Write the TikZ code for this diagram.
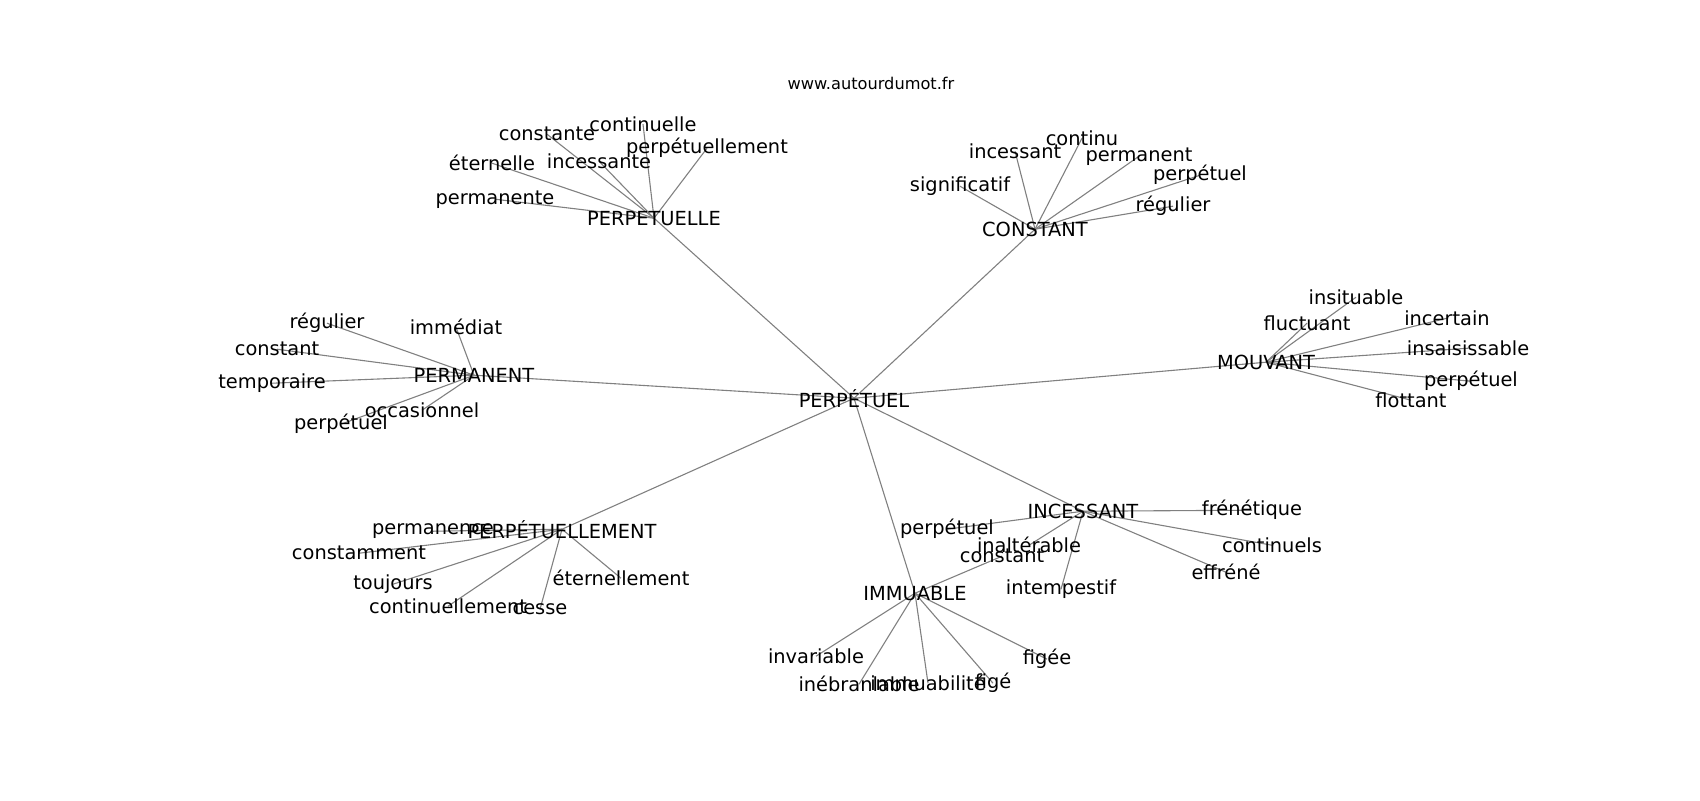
\documentclass[tikz,border=0pt]{standalone}
\usepackage{fontspec}
\setmainfont{DejaVu Sans}
\usetikzlibrary{backgrounds}
\tikzset{
  word/.style={inner sep=0pt, yshift=-0.6pt, font=\fontsize{9.7}{11}\selectfont},
  edge/.style={draw=gray, line width=0.55pt}
}
\begin{document}
\begin{tikzpicture}[x=0.5pt,y=-0.5pt]
\useasboundingbox (0,0) rectangle (1700,800);
\node[font=\fontsize{8.1}{10}\selectfont] (site) at (871,83) {www.autourdumot.fr};
% centre and main words
\node[word] (perpetuel) at (854,397) {PERPÉTUEL};
\foreach \n/\x/\y/\t in {perpetuelle/654/217/PERPETUELLE, constant/1035/228/CONSTANT,
  permanent/474/374/PERMANENT, mouvant/1266/361/MOUVANT,
  perpetuellement/562/528/PERPÉTUELLEMENT, immuable/915/592/IMMUABLE,
  incessant/1083/510/INCESSANT}
\node[word] (\n) at (\x,\y) {\t};
% leaves
\foreach \n/\x/\y/\t in {
  a1/495/198/permanente, a2/492/162/éternelle, a3/547/133/constante,
  a4/643/123/continuelle, a5/599/160/incessante, a6/707/147/perpétuellement,
  b1/960/185/significatif, b2/1015/150/incessant, b3/1082/137/continu,
  b4/1139/155/permanent, b5/1200/174/perpétuel, b6/1173/205/régulier,
  c1/327/322/régulier, c2/456/326/immédiat, c3/277/348/constant,
  c4/272/382/temporaire, c5/422/409/occasionnel, c6/341/423/perpétuel,
  d1/1356/296/insituable, d2/1307/322/fluctuant, d3/1447/317/incertain,
  d4/1468/347/insaisissable, d5/1471/380/perpétuel, d6/1411/399/flottant,
  e1/433/530/permanence, e2/359/552/constamment, e3/393/583/toujours,
  e4/448/605/continuellement, e5/540/608/cesse, e6/621/577/éternellement,
  f1/1002/555/constant, f2/816/655/invariable, f3/859/683/inébranlable,
  f4/928/682/immuabilité, f5/993/682/figé, f6/1047/658/figée,
  g1/947/528/perpétuel, g2/1029/544/inaltérable, g3/1252/509/frénétique,
  g4/1272/544/continuels, g5/1226/571/effréné, g6/1061/588/intempestif}
\node[word] (\n) at (\x,\y) {\t};
\begin{pgfonlayer}{background}
\foreach \b in {perpetuelle,constant,permanent,mouvant,perpetuellement,immuable,incessant}
\draw[edge] (perpetuel.center) -- (\b.center);
\foreach \a/\b in {perpetuelle/a1,perpetuelle/a2,perpetuelle/a3,perpetuelle/a4,perpetuelle/a5,perpetuelle/a6,
  constant/b1,constant/b2,constant/b3,constant/b4,constant/b5,constant/b6,
  permanent/c1,permanent/c2,permanent/c3,permanent/c4,permanent/c5,permanent/c6,
  mouvant/d1,mouvant/d2,mouvant/d3,mouvant/d4,mouvant/d5,mouvant/d6,
  perpetuellement/e1,perpetuellement/e2,perpetuellement/e3,perpetuellement/e4,perpetuellement/e5,perpetuellement/e6,
  immuable/f1,immuable/f2,immuable/f3,immuable/f4,immuable/f5,immuable/f6,
  incessant/g1,incessant/g2,incessant/g3,incessant/g4,incessant/g5,incessant/g6}
\draw[edge] (\a.center) -- (\b.center);
\end{pgfonlayer}
\end{tikzpicture}
\end{document}
